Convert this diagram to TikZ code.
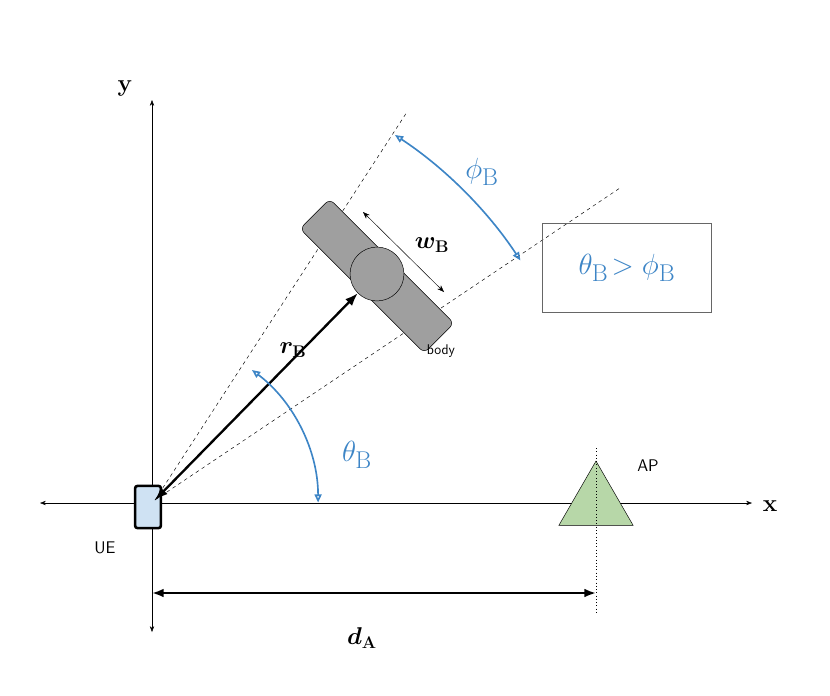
\documentclass[tikz,border=0pt]{standalone}
\usepackage{amsmath,amssymb,bm}
\usepackage{tikz}
\usetikzlibrary{arrows.meta,shapes.geometric}
\definecolor{angblue}{RGB}{61,133,198}
\definecolor{apgreen}{RGB}{183,215,168}
\definecolor{uefill}{RGB}{207,226,243}
\begin{document}
\begin{tikzpicture}[x=0.03cm,y=-0.03cm,
  axis/.style={thin,{Stealth[length=5pt]}-{Stealth[length=5pt]}},
  angarc/.style={angblue,line width=1.4pt,{Triangle[open,length=7pt,width=6pt]}-{Triangle[open,length=7pt,width=6pt]}},
  bluetxt/.style={text=angblue,font=\Huge}]
\useasboundingbox (0,0) rectangle (830,696);
% axes
\draw [axis] (40,503) -- (752,503);
\draw [axis] (152,632) -- (152,100);
\node (ylab) at (125,88) {\huge$\mathbf{y}$};
\node (xlab) at (770,506) {\huge$\mathbf{x}$};
% user equipment and access point
\node [draw,line width=2.2pt,fill=uefill,rounded corners=2pt,minimum width=22pt,minimum height=36pt,inner sep=0pt] (ue) at (148,507) {};
\node [font=\Large\sffamily] (uelab) at (105,548) {UE};
\coordinate (o) at (155,500);
\node [draw,isosceles triangle,isosceles triangle apex angle=60,shape border rotate=90,fill=apgreen,minimum size=55pt,inner sep=0pt] (ap) at (596,504) {};
\node [font=\Large\sffamily] (aplab) at (648,466) {AP};
\draw [dotted,thick] (596,448) -- (596,615);
% distance to AP
\coordinate (da1) at (152,593);
\coordinate (da2) at (596,593);
\draw [line width=1.8pt,{Latex[length=10pt]}-{Latex[length=10pt]}] (da1) -- (da2);
\node (dalab) at (362,638) {\huge$\bm{d}_{\mathbf{A}}$};
% blocking body
\coordinate (t1) at (407,112);
\coordinate (t2) at (620,188);
\draw [dashed] (o) -- (t1);
\draw [dashed] (o) -- (t2);
\node [draw,fill=gray!75,rounded corners=5pt,rotate=-45,minimum width=150pt,minimum height=36pt] (body) at (377,276) {};
\node [draw,circle,fill=gray!75,minimum size=46pt,inner sep=0pt] (head) at (377,274) {};
\node [font=\large\sffamily] (bodylab) at (441,351) {body};
\draw [line width=2pt,{Latex[length=11pt]}-{Latex[length=11pt]}] (o) -- (head.south west);
\draw [thin,{Stealth[length=6pt]}-{Stealth[length=6pt]}] (363,212) -- (444,292);
\node (rlab) at (293,350) {\huge$\bm{r}_{\mathbf{B}}$};
\node (wlab) at (432,245) {\huge$\bm{w}_{\mathbf{B}}$};
% angles
\draw [angarc] (395,135) arc[start angle=56.6,end angle=33.4,x radius=441,y radius=-441];
\draw [angarc] (252,370) arc[start angle=53,end angle=0,x radius=166,y radius=-166];
\node [bluetxt] (philab) at (482,172) {$\phi_{\mathrm{B}}$};
\node [bluetxt] (thetalab) at (357,455) {$\theta_{\mathrm{B}}$};
\node [draw=gray!80!black,thick,minimum width=5.07cm,minimum height=2.67cm,bluetxt] (cond) at (627,268) {$\theta_{\mathrm{B}}\!>\phi_{\mathrm{B}}$};
\end{tikzpicture}
\end{document}
